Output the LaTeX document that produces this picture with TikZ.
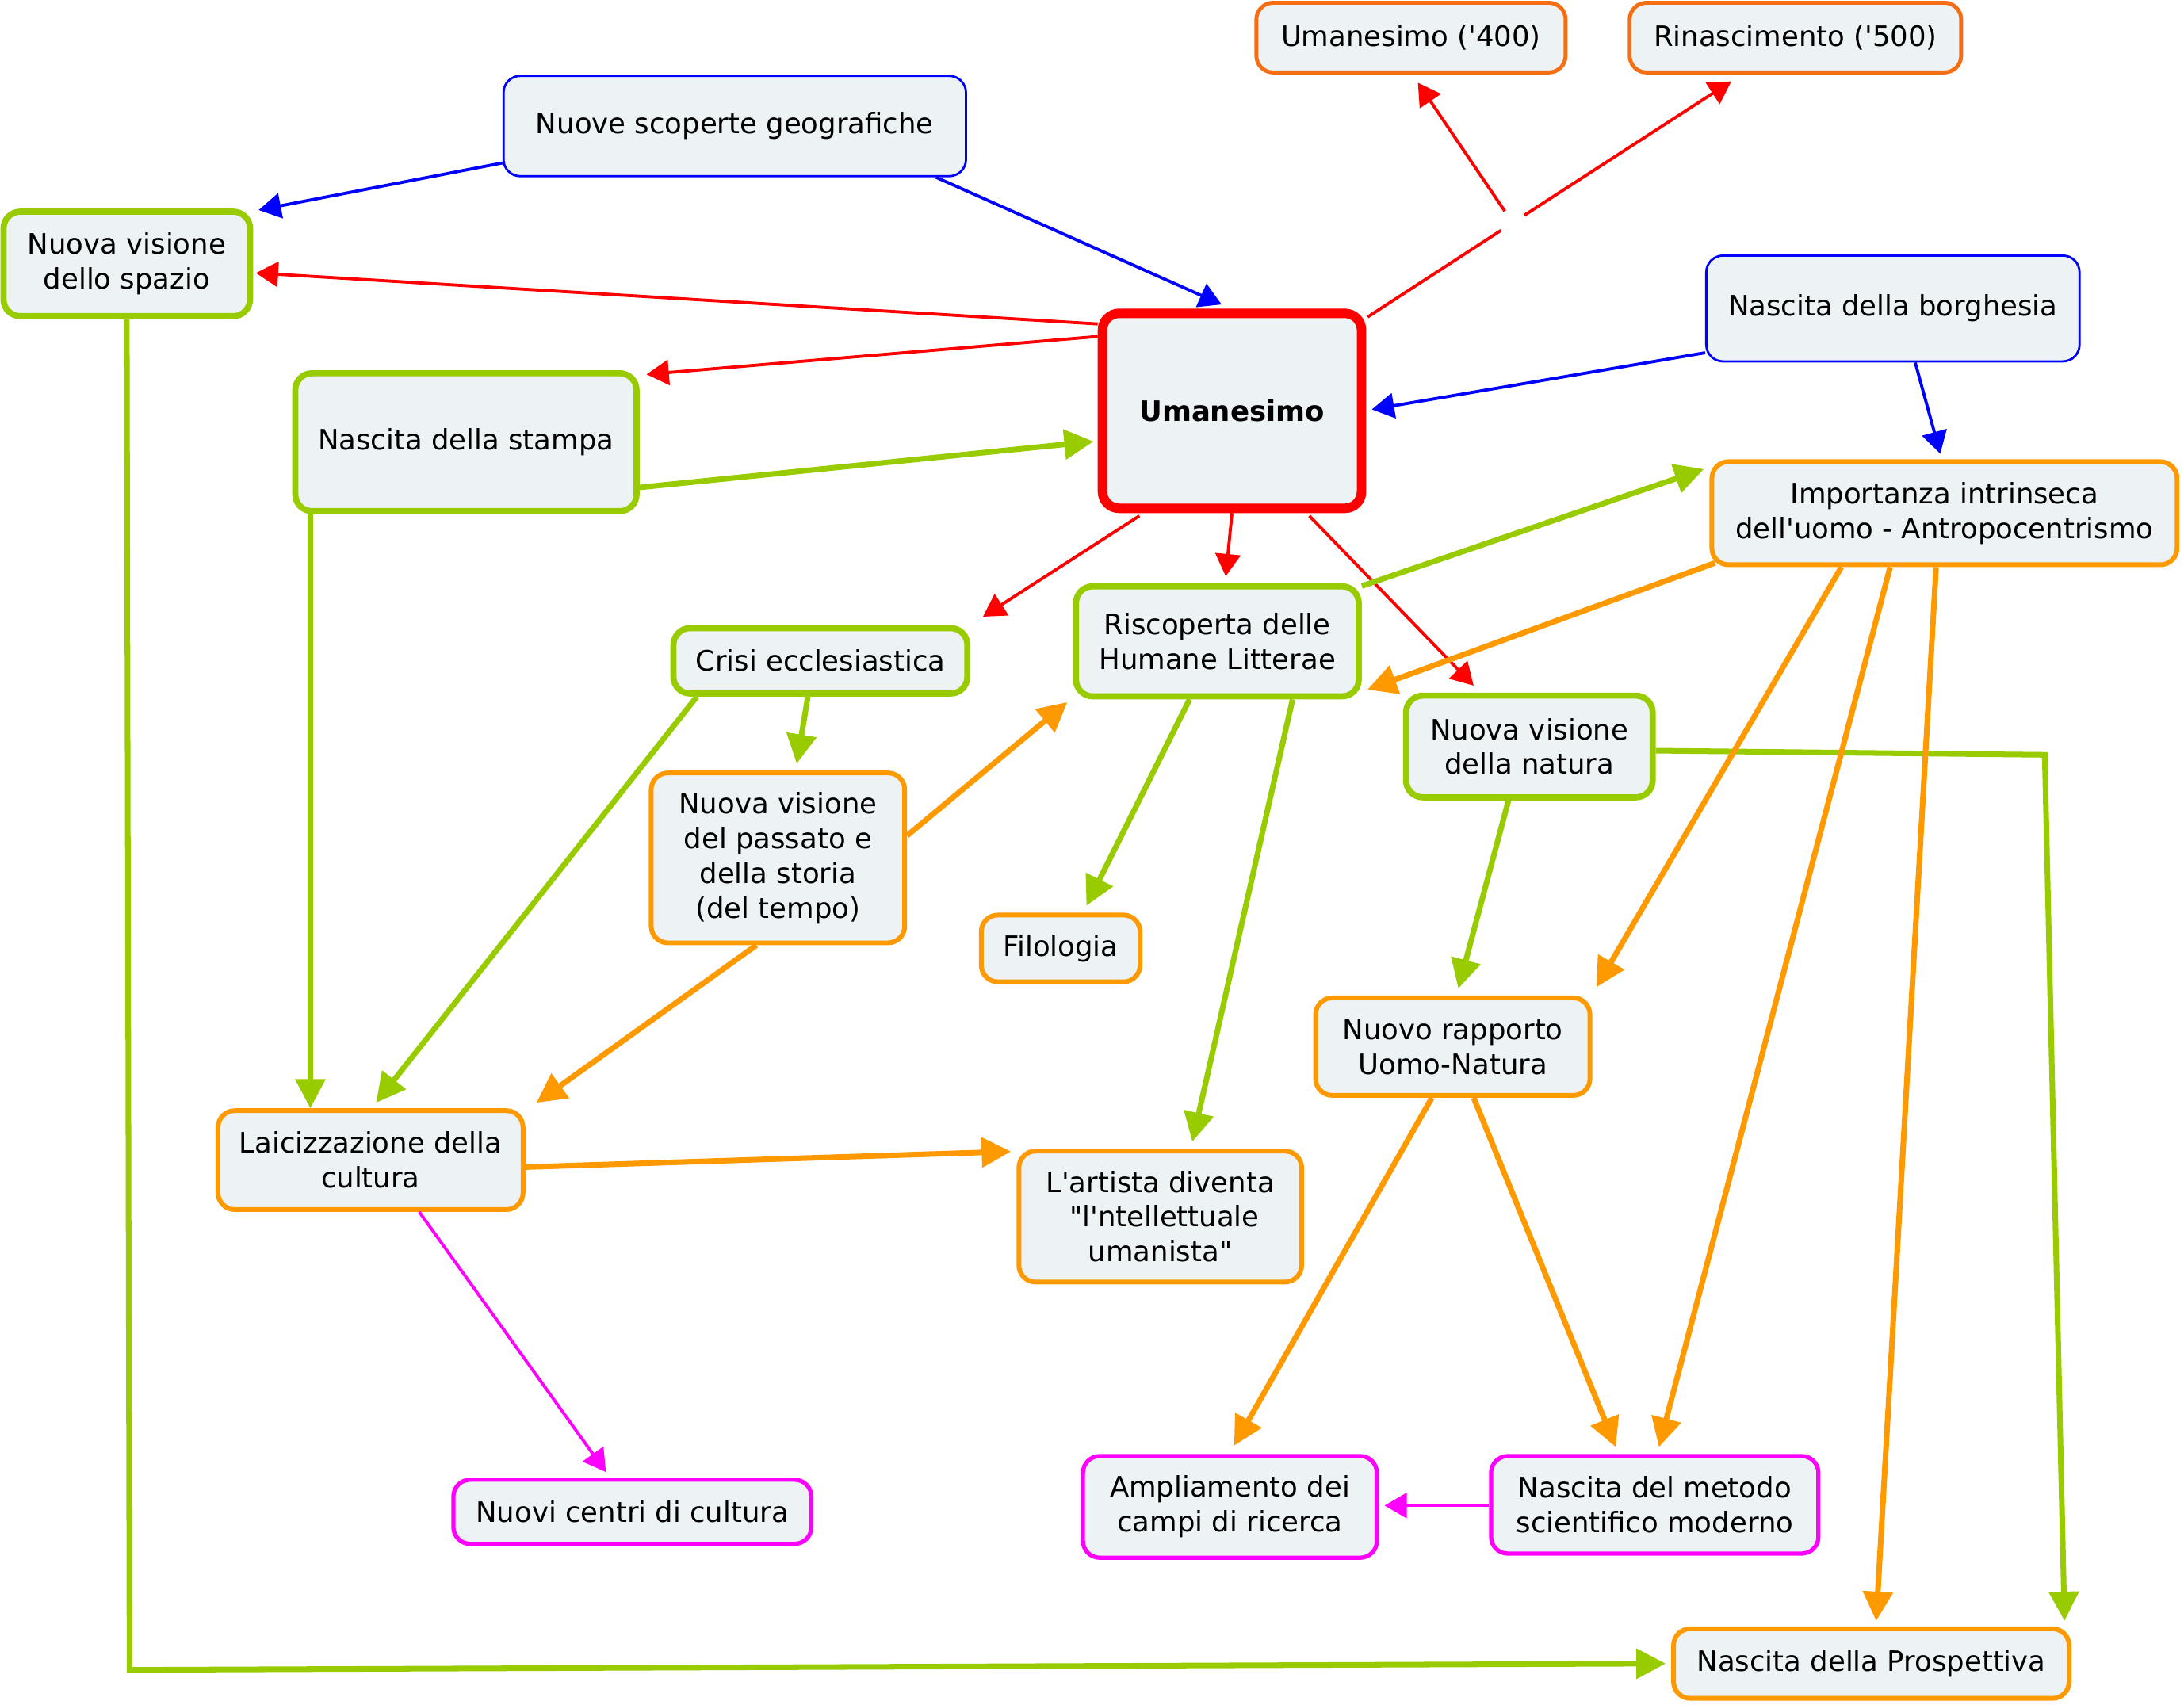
\documentclass[tikz,border=0pt]{standalone}
\usepackage{fontspec}
\setmainfont{DejaVu Sans}[Ligatures=TeXOff]
\usetikzlibrary{arrows.meta,calc}
\definecolor{cfill}{RGB}{237,243,244}
\definecolor{cgreen}{RGB}{153,204,0}
\definecolor{corange}{RGB}{255,153,0}
\definecolor{cdkorange}{RGB}{245,110,20}
\definecolor{cblue}{RGB}{0,0,255}
\definecolor{cred}{RGB}{255,0,0}
\definecolor{cmagenta}{RGB}{255,0,255}

\begin{document}
\begin{tikzpicture}[x=0.5pt,y=-0.5pt,
    concept/.style={draw,fill=cfill,rounded corners=6pt,align=center,inner sep=2pt,
      font=\fontsize{10.1}{12.5}\selectfont},
    gnode/.style={concept,draw=cgreen,line width=2.2pt},
    onode/.style={concept,draw=corange,line width=1.7pt},
    dnode/.style={concept,draw=cdkorange,line width=1.4pt},
    bnode/.style={concept,draw=cblue,line width=0.8pt},
    mnode/.style={concept,draw=cmagenta,line width=1.5pt},
    rnode/.style={concept,draw=cred,line width=3.4pt},
    thinlink/.style={line width=1.1pt,-{Triangle[length=8pt,width=9pt]}},
    thicklink/.style={line width=2pt,-{Triangle[length=10.5pt,width=10.5pt]}},
    redlink/.style={thinlink,color=cred},
    bluelink/.style={thinlink,color=cblue},
    magentalink/.style={thinlink,color=cmagenta},
    greenlink/.style={thicklink,color=cgreen},
    orangelink/.style={thicklink,color=corange}]
    \useasboundingbox (0,0) rectangle (1568,1224);

    \node[dnode,minimum width=111pt,minimum height=25pt] (u400) at (1013,27) {Umanesimo ('400)};
    \node[dnode,minimum width=119pt,minimum height=25pt] (rin) at (1289,27) {Rinascimento ('500)};
    \node[bnode,minimum width=166pt,minimum height=36pt] (nsg) at (527.5,90.5) {Nuove scoperte geografiche};
    \node[gnode,minimum width=88.5pt,minimum height=37.5pt] (nvs) at (91,189.5) {Nuova visione\\dello spazio};
    \node[bnode,minimum width=134pt,minimum height=38pt] (nbor) at (1359,221.5) {Nascita della borghesia};
    \node[rnode,minimum width=93pt,minimum height=70pt] (uman) at (884.5,295) {\bfseries Umanesimo};
    \node[gnode,minimum width=122.5pt,minimum height=49.5pt] (nst) at (334.5,317.5) {Nascita della stampa};
    \node[onode,minimum width=167pt,minimum height=37pt] (imp) at (1396,368.5) {Importanza intrinseca\\dell'uomo - Antropocentrismo};
    \node[gnode,minimum width=105.5pt,minimum height=23.5pt] (crisi) at (589,474.5) {Crisi ecclesiastica};
    \node[gnode,minimum width=101.5pt,minimum height=39.5pt] (risc) at (874,460.5) {Riscoperta delle\\Humane Litterae};
    \node[gnode,minimum width=88.5pt,minimum height=36.5pt] (nvn) at (1098,536) {Nuova visione\\della natura};
    \node[onode,minimum width=91pt,minimum height=61pt] (nvp) at (558.5,616) {Nuova visione\\del passato e\\della storia\\(del tempo)};
    \node[onode,minimum width=57pt,minimum height=24pt] (filo) at (761.5,681) {Filologia};
    \node[onode,minimum width=98.5pt,minimum height=35pt] (nrap) at (1043,751.5) {Nuovo rapporto\\Uomo-Natura};
    \node[onode,minimum width=109.5pt,minimum height=35.5pt] (laic) at (266,833) {Laicizzazione della\\cultura};
    \node[onode,minimum width=101.5pt,minimum height=47pt] (art) at (833,873.5) {L'artista diventa\\\hspace*{3pt}"l'ntellettuale\\umanista"};
    \node[mnode,minimum width=128.5pt,minimum height=23pt] (ncc) at (454,1085.5) {Nuovi centri di cultura};
    \node[mnode,minimum width=105.5pt,minimum height=36.5pt] (ampl) at (883,1082) {Ampliamento dei\\campi di ricerca};
    \node[mnode,minimum width=117.5pt,minimum height=35pt] (nmet) at (1188,1080.5) {Nascita del metodo\\scientifico moderno};
    \node[onode,minimum width=142pt,minimum height=25pt] (npro) at (1343.5,1194.5) {Nascita della Prospettiva};
    \node[inner sep=0pt,minimum size=8pt] (jn) at (1086,160) {};
    \coordinate (bend) at (1468,542);
    \coordinate (corner) at (93,1199);

    \draw[bluelink] ($(nsg.west)+(0,26.5)$) -- ($(nvs.north east)+(4,1)$);
    \draw[bluelink] ($(nsg.south)+(144.5,0)$) -- ($(uman.north)+(-7.5,-3)$);
    \draw[redlink] ($(uman.north west)+(0,11)$) -- ($(nvs.east)+(2,6.5)$);
    \draw[redlink] ($(uman.north west)+(0,20)$) -- ($(nst.north east)+(5,3)$);
    \draw[redlink,-] ($(uman.north east)+(1,6)$) -- (jn);
    \draw[redlink] (jn) -- ($(u400.south)+(5,6)$);
    \draw[redlink] (jn) -- ($(rin.south)+(-46,5)$);
    \draw[bluelink] ($(nbor.south west)+(0,-7)$) -- ($(uman.east)+(4,-1)$);
    \draw[bluelink] ($(nbor.south)+(16,0)$) -- ($(imp.north)+(-3,-4)$);
    \draw[greenlink] ($(nst.east)+(0,32.5)$) -- ($(uman.west)+(-3,22)$);
    \draw[greenlink] ($(nst.south west)+(13,0)$) -- ($(laic.north west)+(68,0)$);
    \draw[greenlink] (nvs.south) -- (corner) -- ($(npro.west)+(-4,0)$);
    \draw[redlink] ($(uman.south)+(-66.5,2)$) -- ($(crisi.north east)+(9,-6)$);
    \draw[redlink] (uman.south) -- ($(risc.north)+(6,-5)$);
    \draw[redlink] ($(uman.south)+(55.5,2)$) -- ($(nvn.north)+(-40,-5)$);
    \draw[greenlink] ($(risc.north east)+(0,2)$) -- ($(imp.north west)+(-4,7)$);
    \draw[orangelink] ($(imp.south west)+(4,-3)$) -- ($(risc.south east)+(4,-7)$);
    \draw[greenlink] ($(crisi.south)+(-9,0)$) -- ($(nvp.north)+(13.5,-5)$);
    \draw[greenlink] ($(crisi.south west)+(19,0)$) -- ($(laic.north)+(4,-4)$);
    \draw[orangelink] ($(nvp.east)+(0,-16)$) -- ($(risc.south west)+(-4,2)$);
    \draw[orangelink] ($(nvp.south)+(-15.5,0)$) -- ($(laic.north east)+(8,-4)$);
    \draw[greenlink] ($(risc.south)+(-20,0)$) -- ($(filo.north)+(18.5,-5)$);
    \draw[greenlink] ($(risc.south)+(54,0)$) -- ($(art.north)+(23,-5)$);
    \draw[greenlink] ($(nvn.south)+(-15,0)$) -- ($(nrap.north)+(4,-5)$);
    \draw[greenlink] ($(nvn.east)+(0,3)$) -- (bend) -- ($(npro.north east)+(-5,-4)$);
    \draw[orangelink] ($(imp.south)+(-74,0)$) -- ($(nrap.north east)+(3,-6)$);
    \draw[orangelink] ($(imp.south)+(-39,0)$) -- ($(nmet.north)+(3,-5)$);
    \draw[orangelink] ($(imp.south)+(-6,0)$) -- ($(npro.north)+(3.5,-4)$);
    \draw[orangelink] ($(laic.east)+(0,5)$) -- ($(art.north west)+(-4,2)$);
    \draw[magentalink] ($(laic.south)+(35,0)$) -- ($(ncc.north)+(-19,-4)$);
    \draw[orangelink] ($(nrap.south)+(-15,0)$) -- ($(ampl.north)+(3,-6)$);
    \draw[orangelink] ($(nrap.south)+(15,0)$) -- ($(nmet.north)+(-28,-5)$);
    \draw[magentalink] ($(nmet.west)+(0,0.5)$) -- ($(ampl.east)+(4,-1)$);
\end{tikzpicture}
\end{document}
